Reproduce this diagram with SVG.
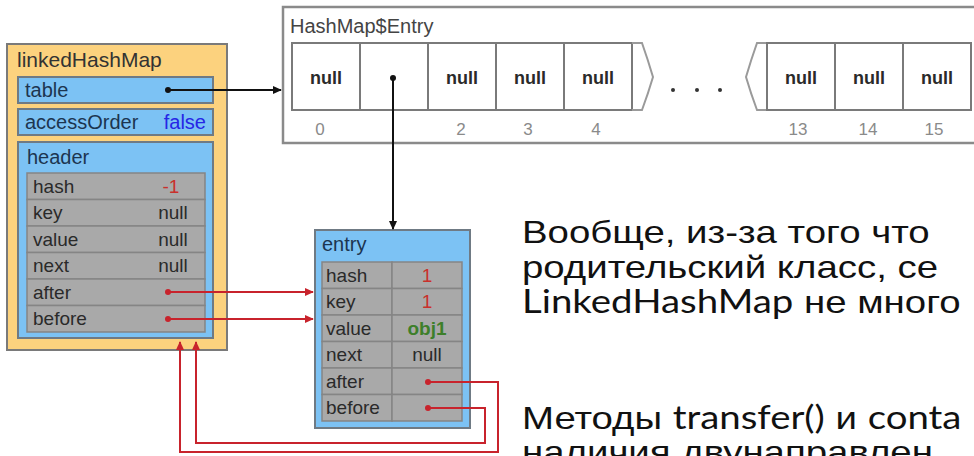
<svg xmlns="http://www.w3.org/2000/svg" width="974" height="456" viewBox="0 0 974 456">
<defs>
<style>
text{font-family:"Liberation Sans",Arial,Helvetica,sans-serif}
.yel{fill:#fcd27e;stroke:#7a7a7a;stroke-width:2}
.blu{fill:#7cc2f4;stroke:#6f7a84;stroke-width:2}
.gry{fill:#a9a9a9;stroke:#858585;stroke-width:1.5}
.cell{fill:#fff;stroke:#7a7a7a;stroke-width:2}
.brace{fill:none;stroke:#9a9a9a;stroke-width:2}
.nm{font-size:20px;fill:#1c3550}
.lb{font-size:19px;fill:#2a2a2a}
.v{font-size:19px;fill:#2a2a2a;text-anchor:middle}
.red{fill:#c9302c}
.grn{fill:#3d7f2a;font-weight:bold}
.null{font-size:18px;font-weight:bold;fill:#2a2a2a;text-anchor:middle}
.idx{font-size:17px;fill:#8a8a8a;text-anchor:middle}
.bk{fill:none;stroke:#111;stroke-width:2}
.rd{fill:none;stroke:#c8232c;stroke-width:2}
.ru{font-size:32px;fill:#111}
.lat{font-family:Lato,"Liberation Sans",sans-serif}
</style>
<marker id="ak" viewBox="0 0 10 10" refX="9" refY="5" markerWidth="9" markerHeight="9" markerUnits="userSpaceOnUse" orient="auto"><path d="M0,0.5 L10,5 L0,9.5 z" fill="#111"/></marker>
<marker id="ar" viewBox="0 0 10 10" refX="9" refY="5" markerWidth="9" markerHeight="9" markerUnits="userSpaceOnUse" orient="auto"><path d="M0,0.5 L10,5 L0,9.5 z" fill="#c8232c"/></marker>
</defs>
<rect width="974" height="456" fill="#fff"/>

<g id="hashmap-entry">
<rect x="283" y="7" width="700" height="136" fill="#fff" stroke="#8a8a8a" stroke-width="2.5"/>
<text x="290" y="33" style="font-size:20px;fill:#444">HashMap$Entry</text>
<rect class="cell" x="292" y="43" width="68" height="67"/>
<rect class="cell" x="360" y="43" width="68" height="67"/>
<rect class="cell" x="428" y="43" width="68" height="67"/>
<rect class="cell" x="496" y="43" width="68" height="67"/>
<rect class="cell" x="564" y="43" width="68" height="67"/>
<path class="brace" d="M632,43 H642 Q648,60 653,77 Q648,94 642,110 H632"/>
<circle cx="673" cy="90" r="2" fill="#333"/>
<circle cx="697" cy="90" r="2" fill="#333"/>
<circle cx="720" cy="90" r="2" fill="#333"/>
<path class="brace" d="M767,43 H757 Q751,60 746,77 Q751,94 757,110 H767"/>
<rect class="cell" x="767" y="43" width="68" height="67"/>
<rect class="cell" x="835" y="43" width="68" height="67"/>
<rect class="cell" x="903" y="43" width="68" height="67"/>
<text class="null" x="326" y="84">null</text>
<text class="null" x="462" y="84">null</text>
<text class="null" x="530" y="84">null</text>
<text class="null" x="598" y="84">null</text>
<text class="null" x="801" y="84">null</text>
<text class="null" x="869" y="84">null</text>
<text class="null" x="937" y="84">null</text>
<text class="idx" x="320" y="135">0</text>
<text class="idx" x="461" y="135">2</text>
<text class="idx" x="528" y="135">3</text>
<text class="idx" x="596" y="135">4</text>
<text class="idx" x="798" y="135">13</text>
<text class="idx" x="868" y="135">14</text>
<text class="idx" x="934" y="135">15</text>
</g>

<g id="linkedHashMap">
<rect class="yel" x="7" y="44" width="220" height="306"/>
<text x="17" y="67" style="font-size:21px;fill:#333">linkedHashMap</text>
<rect class="blu" x="18" y="77" width="195" height="26"/>
<text class="nm" x="25" y="97">table</text>
<rect class="blu" x="18" y="109" width="195" height="26"/>
<text class="nm" x="25" y="129">accessOrder</text>
<text x="206" y="129" style="font-size:20px;fill:#2626e6;text-anchor:end">false</text>
<rect class="blu" x="18" y="142" width="195" height="196"/>
<text class="nm" x="27" y="164">header</text>
<rect class="gry" x="27" y="173" width="178" height="26.5"/>
<rect class="gry" x="27" y="199.5" width="178" height="26.5"/>
<rect class="gry" x="27" y="226" width="178" height="26.5"/>
<rect class="gry" x="27" y="252.5" width="178" height="26.5"/>
<rect class="gry" x="27" y="279" width="178" height="26.5"/>
<rect class="gry" x="27" y="305.5" width="178" height="26.5"/>
<text class="lb" x="33" y="193">hash</text>
<text class="lb" x="33" y="219">key</text>
<text class="lb" x="33" y="246">value</text>
<text class="lb" x="33" y="272">next</text>
<text class="lb" x="33" y="299">after</text>
<text class="lb" x="33" y="325">before</text>
<text class="v red" x="171" y="193">-1</text>
<text class="v" x="173" y="219">null</text>
<text class="v" x="173" y="246">null</text>
<text class="v" x="173" y="272">null</text>
</g>

<g id="entry">
<rect class="blu" x="315" y="230" width="155" height="198"/>
<text class="nm" x="322" y="251">entry</text>
<rect class="gry" x="322" y="262" width="70" height="26.5"/>
<rect class="gry" x="392" y="262" width="70" height="26.5"/>
<rect class="gry" x="322" y="288.5" width="70" height="26.5"/>
<rect class="gry" x="392" y="288.5" width="70" height="26.5"/>
<rect class="gry" x="322" y="315" width="70" height="26.5"/>
<rect class="gry" x="392" y="315" width="70" height="26.5"/>
<rect class="gry" x="322" y="341.5" width="70" height="26.5"/>
<rect class="gry" x="392" y="341.5" width="70" height="26.5"/>
<rect class="gry" x="322" y="368" width="70" height="26.5"/>
<rect class="gry" x="392" y="368" width="70" height="26.5"/>
<rect class="gry" x="322" y="394.5" width="70" height="26.5"/>
<rect class="gry" x="392" y="394.5" width="70" height="26.5"/>
<text class="lb" x="326" y="282">hash</text>
<text class="lb" x="326" y="308">key</text>
<text class="lb" x="326" y="335">value</text>
<text class="lb" x="326" y="361">next</text>
<text class="lb" x="326" y="388">after</text>
<text class="lb" x="326" y="414">before</text>
<text class="v red" x="427" y="282">1</text>
<text class="v red" x="427" y="308">1</text>
<text class="v grn" x="427" y="335">obj1</text>
<text class="v" x="427" y="361">null</text>
</g>

<g id="connectors">
<circle cx="168" cy="90" r="3" fill="#111"/>
<path class="bk" d="M168,90 H281" marker-end="url(#ak)"/>
<circle cx="393" cy="78" r="3" fill="#111"/>
<path class="bk" d="M393,78 V229" marker-end="url(#ak)"/>
<circle cx="168" cy="292" r="3" fill="#c8232c"/>
<path class="rd" d="M168,292 H313" marker-end="url(#ar)"/>
<circle cx="168" cy="319" r="3" fill="#c8232c"/>
<path class="rd" d="M168,319 H313" marker-end="url(#ar)"/>
<circle cx="428" cy="382" r="3" fill="#c8232c"/>
<path class="rd" d="M428,382 H498 V452 H180 V342" marker-end="url(#ar)"/>
<circle cx="428" cy="408" r="3" fill="#c8232c"/>
<path class="rd" d="M428,408 H485 V443 H196 V342" marker-end="url(#ar)"/>
</g>

<g id="description" transform="translate(522,0) scale(1.2,1)">
<text class="ru" x="0" y="243">Вообще, из-за того что</text>
<text class="ru" x="0" y="278">родительский класс, се</text>
<text class="ru" x="0" y="313"><tspan class="lat">LinkedHashMap</tspan> не много</text>
<text class="ru" x="0" y="429">Методы <tspan class="lat">transfer()</tspan> и <tspan class="lat">conta</tspan></text>
<text class="ru" x="0" y="463">наличия двунаправлен</text>
</g>
</svg>
